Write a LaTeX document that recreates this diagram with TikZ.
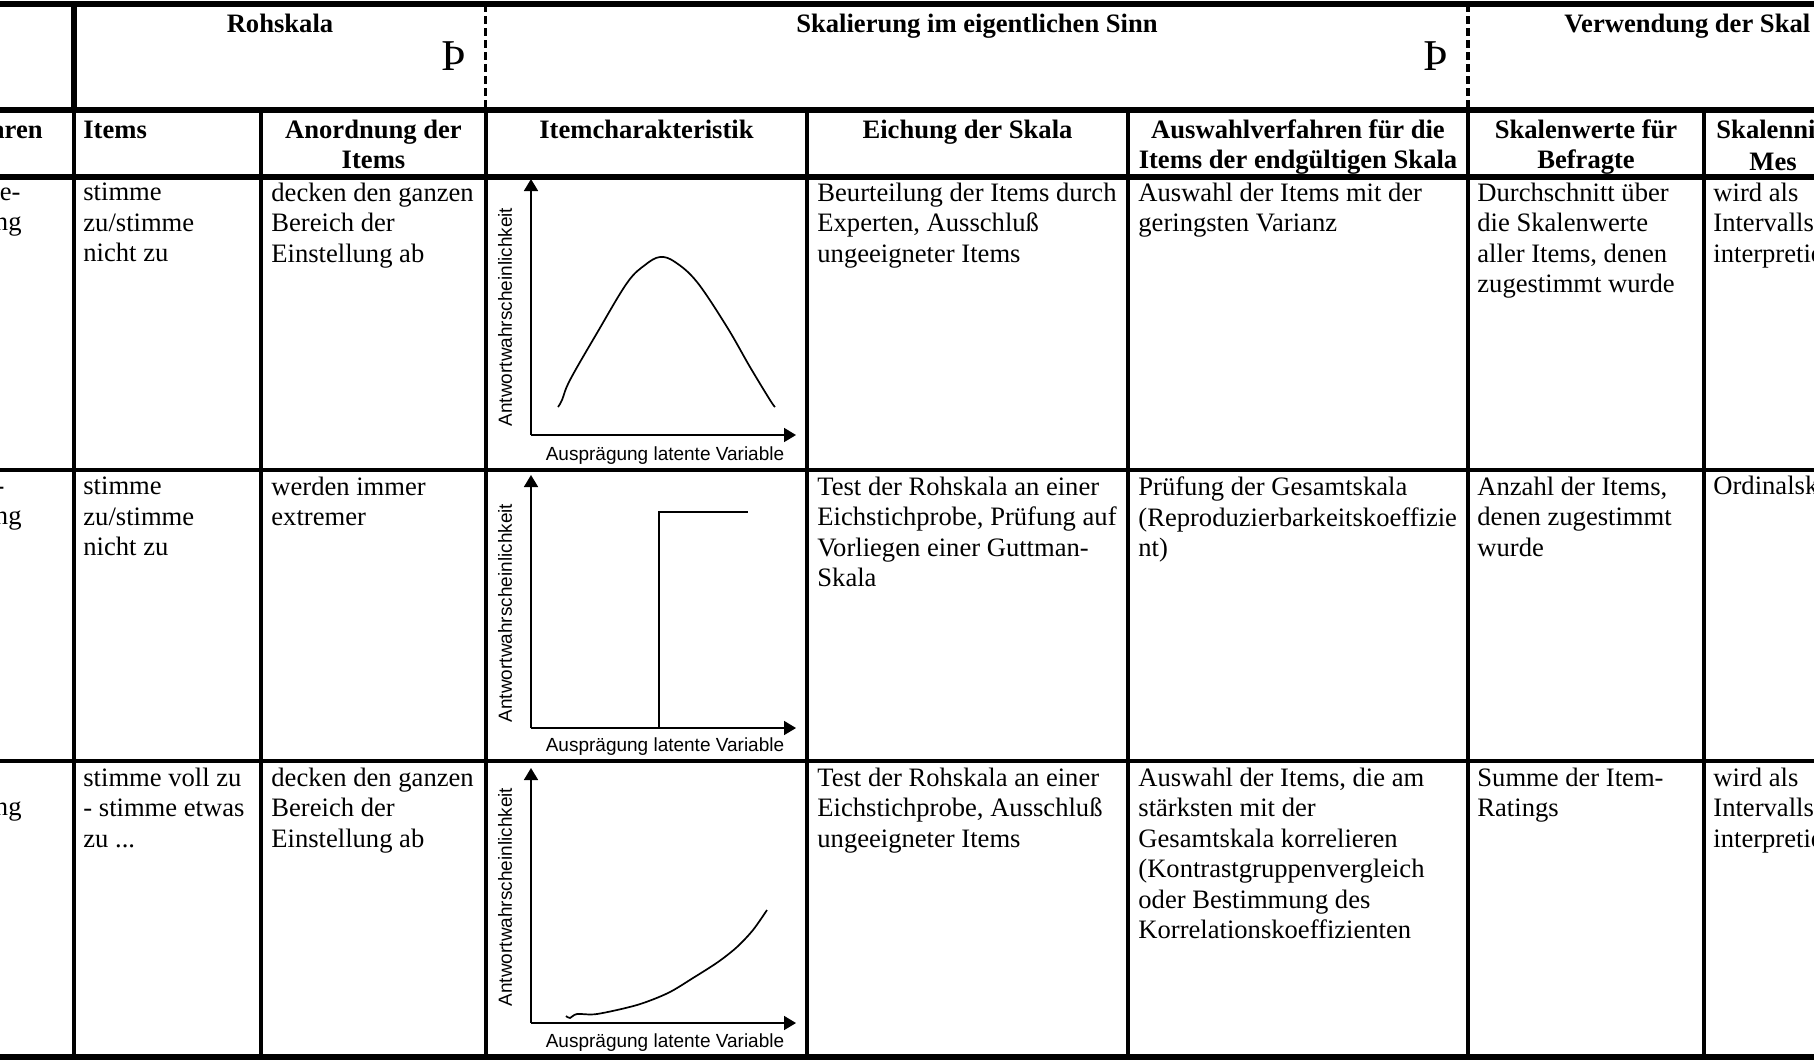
\documentclass[tikz,border=0pt]{standalone}
\usepackage{fontspec}
\setmainfont{Liberation Serif}[Ligatures=CommonOff]
\newfontfamily\chartsans{Liberation Sans}
\usetikzlibrary{arrows.meta}

\newcommand{\cellfont}{\fontsize{13.3}{15.2}\selectfont}
\newcommand{\headfont}{\fontsize{13.3}{15.2}\selectfont\bfseries}
\newcommand{\axisfont}{\chartsans\fontsize{9.5}{11}\selectfont}
\newcommand{\thornfont}{\fontsize{22}{24}\selectfont}

\begin{document}
\begin{tikzpicture}[x=0.5pt, y=-0.5pt,
    cell/.style={anchor=north west, align=left, inner sep=0pt, font=\cellfont, execute at begin node=\strut},
    head/.style={anchor=north, align=center, inner sep=0pt, font=\headfont, execute at begin node=\strut},
    rule/.style={line width=2pt},
    heavy/.style={line width=2.7pt},
    split/.style={line width=1.7pt, dash pattern=on 4pt off 2pt},
    axis/.style={line width=0.85pt, -{Triangle[length=6pt, width=7pt]}},
    curve/.style={line width=0.85pt},
    ylab/.style={font=\axisfont, rotate=90, inner sep=0pt},
    xlab/.style={font=\axisfont, inner sep=0pt}
]
\useasboundingbox (0,0) rectangle (1814,1061);
\clip (0,0) rectangle (1814,1061);

% Horizontal rules
\draw[heavy] (0,4) -- (1814,4);
\draw[heavy] (0,110) -- (1814,110);
\draw[heavy] (0,177) -- (1814,177);
\draw[heavy, line width=2.4pt] (0,470) -- (1814,470);
\draw[heavy, line width=2.4pt] (0,761) -- (1814,761);
\draw[heavy] (0,1057) -- (1814,1057);

% Vertical rules
\draw[heavy] (74,4) -- (74,110);
\draw[rule] (74,110) -- (74,1057);
\draw[rule] (261,110) -- (261,1057);
\draw[split] (485.5,4) -- (485.5,110);
\draw[rule] (485.5,110) -- (485.5,1057);
\draw[rule] (807,110) -- (807,1057);
\draw[rule] (1128,110) -- (1128,1057);
\draw[split] (1468,4) -- (1468,110);
\draw[rule] (1468,110) -- (1468,1057);
\draw[rule] (1704,110) -- (1704,1057);

% Group headings
\node[head, anchor=base] (raw) at (280,32) {Rohskala};
\node[head, anchor=base] (proper) at (977,32) {Skalierung im eigentlichen Sinn};
\node[head, anchor=base west] (use) at (1564,32) {Verwendung der Skal};
\node[font=\thornfont, inner sep=0pt, anchor=base] (thornA) at (454,70) {Þ};
\node[font=\thornfont, inner sep=0pt, anchor=base] (thornB) at (1436,70) {Þ};

% Column headings
\node[head, anchor=north east] (hMethod) at (43,116.9) {aren};
\node[head, anchor=north west] (hItems) at (83,116.9) {Items};
\node[head] (hOrder) at (373.5,119.2) {Anordnung der\\Items};
\node[head] (hCurve) at (646.5,116.9) {Itemcharakteristik};
\node[head] (hCalib) at (967.5,116.9) {Eichung der Skala};
\node[head] (hSelect) at (1298,119.2) {Auswahlverfahren für die\\Items der endgültigen Skala};
\node[head] (hValues) at (1586,119.2) {Skalenwerte für\\Befragte};
\node[head, anchor=north west] (hLevel) at (1716,116.9) {Skalenni};
\node[head, anchor=north west] (hLevelB) at (1749,148.5) {Mes};

% Row 1
\node[cell, anchor=north east] (r1methodA) at (21,178.7) {e-};
\node[cell, anchor=north east] (r1methodB) at (22,209.1) {ng};
\node[cell] (r1items) at (83,182.7) {stimme\\zu/stimme\\nicht zu};
\node[cell] (r1order) at (271,182.7) {decken den ganzen\\Bereich der\\Einstellung ab};
\node[cell] (r1calib) at (817,182.7) {Beurteilung der Items durch\\Experten, Ausschluß\\ungeeigneter Items};
\node[cell] (r1select) at (1138,182.7) {Auswahl der Items mit der\\geringsten Varianz};
\node[cell] (r1values) at (1477,182.7) {Durchschnitt über\\die Skalenwerte\\aller Items, denen\\zugestimmt wurde};
\node[cell] (r1level) at (1713,182.7) {wird als\\Intervalls\\interpretie};

% Row 2
\node[cell, anchor=north east] (r2methodA) at (5,472.7) {-};
\node[cell, anchor=north east] (r2methodB) at (22,503.1) {ng};
\node[cell] (r2items) at (83,476.7) {stimme\\zu/stimme\\nicht zu};
\node[cell] (r2order) at (271,476.7) {werden immer\\extremer};
\node[cell] (r2calib) at (817,476.7) {Test der Rohskala an einer\\Eichstichprobe, Prüfung auf\\Vorliegen einer Guttman-\\Skala};
\node[cell] (r2select) at (1138,476.7) {Prüfung der Gesamtskala\\(Reproduzierbarkeitskoeffizie\\nt)};
\node[cell] (r2values) at (1477,476.7) {Anzahl der Items,\\denen zugestimmt\\wurde};
\node[cell] (r2level) at (1713,472.7) {Ordinalsk};

% Row 3
\node[cell, anchor=north east] (r3method) at (22,794.1) {ng};
\node[cell] (r3items) at (83,767.7) {stimme voll zu\\- stimme etwas\\zu ...};
\node[cell] (r3order) at (271,767.7) {decken den ganzen\\Bereich der\\Einstellung ab};
\node[cell] (r3calib) at (817,767.7) {Test der Rohskala an einer\\Eichstichprobe, Ausschluß\\ungeeigneter Items};
\node[cell] (r3select) at (1138,767.7) {Auswahl der Items, die am\\stärksten mit der\\Gesamtskala korrelieren\\(Kontrastgruppenvergleich\\oder Bestimmung des\\Korrelationskoeffizienten};
\node[cell] (r3values) at (1477,767.7) {Summe der Item-\\Ratings};
\node[cell] (r3level) at (1713,767.7) {wird als\\Intervalls\\interpretie};

% Chart 1 (bell curve)
\coordinate (o1) at (531,435);
\coordinate (y1) at (531,179);
\coordinate (x1) at (796,435);
\draw[axis] (o1) -- (y1);
\draw[axis] (o1) -- (x1);
\node[ylab] (ylab1) at (505,317) {Antwortwahrscheinlichkeit};
\node[xlab] (xlab1) at (665,456) {Ausprägung latente Variable};
\draw[curve] plot[smooth, tension=0.6] coordinates {(558,407) (562,400) (570,380) (597,333) (627,283) (645,265) (660,257) (675,262) (697,282) (727,327) (750,367) (770,400) (775,407)};

% Chart 2 (step)
\coordinate (o2) at (531,728);
\coordinate (y2) at (531,475);
\coordinate (x2) at (796,728);
\coordinate (s2) at (659,728);
\coordinate (t2) at (659,512);
\coordinate (e2) at (748,512);
\draw[axis] (o2) -- (y2);
\draw[axis] (o2) -- (x2);
\node[ylab] (ylab2) at (505,613) {Antwortwahrscheinlichkeit};
\node[xlab] (xlab2) at (665,747) {Ausprägung latente Variable};
\draw[curve] (s2) -- (t2) -- (e2);

% Chart 3 (rising curve)
\coordinate (o3) at (531,1023);
\coordinate (y3) at (531,768);
\coordinate (x3) at (796,1023);
\draw[axis] (o3) -- (y3);
\draw[axis] (o3) -- (x3);
\node[ylab] (ylab3) at (505,897) {Antwortwahrscheinlichkeit};
\node[xlab] (xlab3) at (665,1043) {Ausprägung latente Variable};
\draw[curve] plot[smooth, tension=0.5] coordinates {(566,1016) (570,1018) (577,1014) (597,1014) (637,1005) (668,993) (693,978) (718,962) (737,947) (753,930) (767,910)};

\end{tikzpicture}
\end{document}
